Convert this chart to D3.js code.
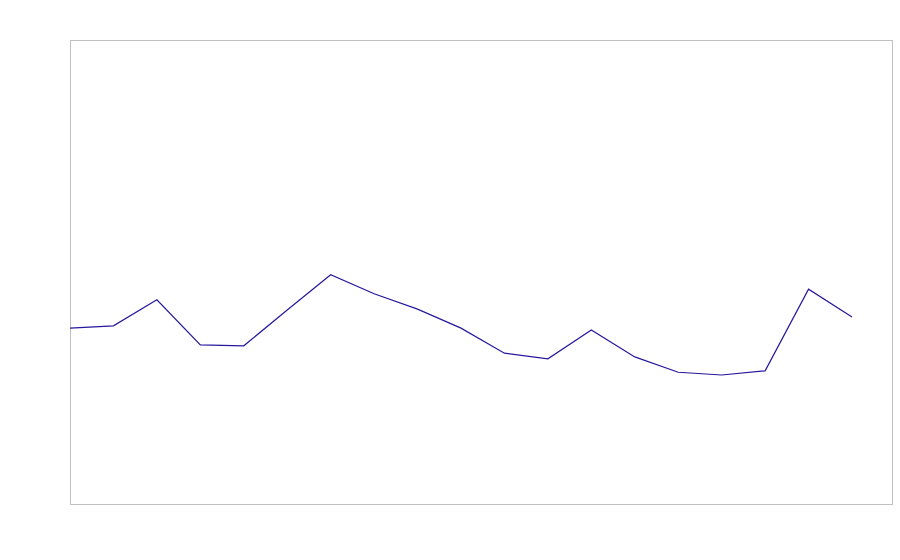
<!DOCTYPE html>
<html>
<head>
<meta charset="utf-8">
<style>
body { margin: 0; background: #fff; }
.frame { fill: none; stroke: #c0c0c0; stroke-width: 1px; }
.series { fill: none; stroke: #25189c; stroke-width: 1.2px; }
</style>
<script src="https://cdn.jsdelivr.net/npm/d3@7/dist/d3.min.js"></script>
</head>
<body>
<svg width="900" height="560"></svg>
<script>
// one value per step, no labels shown on the chart
var steps = [0, 1, 2, 3, 4, 5, 6, 7, 8, 9, 10, 11, 12, 13, 14, 15, 16, 17, 18];
var values = [37.9, 38.4, 44.0, 34.3, 34.1, 41.8, 49.4, 45.3, 42.0, 37.9,
              32.5, 31.3, 37.5, 31.7, 28.4, 27.8, 28.7, 46.3, 40.3];

// note: "top" is reserved on window, so the box edges get their own names
var svg = d3.select("svg"),
    boxLeft = 70.5, boxTop = 40.5, boxRight = 892.5, boxBottom = 504.5;

var x = d3.scaleLinear().domain([0, 18]).range([boxLeft - 0.5, 852]);
var y = d3.scaleLinear().domain([0, 100]).range([boxBottom - 0.5, boxTop - 0.5]);

svg.append("rect")
    .attr("class", "frame")
    .attr("x", boxLeft).attr("y", boxTop)
    .attr("width", boxRight - boxLeft).attr("height", boxBottom - boxTop);

var line = d3.line()
    .x(function(d, i) { return x(steps[i]); })
    .y(function(d) { return y(d); });

svg.append("path")
    .datum(values)
    .attr("class", "series")
    .attr("d", line);
</script>
</body>
</html>
